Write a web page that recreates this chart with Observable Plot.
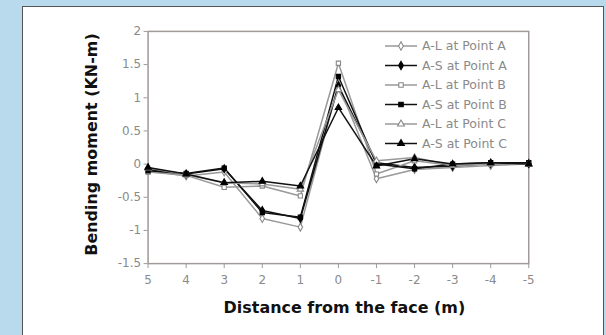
<!DOCTYPE html>
<html>
<head>
<meta charset="utf-8">
<script src="https://cdn.jsdelivr.net/npm/d3@7"></script>
<script src="https://cdn.jsdelivr.net/npm/@observablehq/plot@0.6"></script>
<style>
  html, body { margin: 0; padding: 0; }
  body { width: 606px; height: 335px; background: #b9d9ec; position: relative; overflow: hidden; font-family: "DejaVu Sans", sans-serif; }
  #box { position: absolute; left: 22px; top: 6px; width: 582px; height: 340px; background: #fff; border-left: 1px solid #555; border-top: 1px solid #555; border-right: 1px solid #555; box-sizing: border-box; }
  #chart { position: absolute; left: 1px; top: 0px; }
  #legend { position: absolute; left: 0; top: 0; }
</style>
</head>
<body>
<div id="box"><div id="chart"></div><svg id="legend" width="580" height="200"></svg></div>
<script>
// ---- data ----
const distances = [5, 4, 3, 2, 1, 0, -1, -2, -3, -4, -5];
const yTicks = [-1.5, -1, -0.5, 0, 0.5, 1, 1.5, 2];
const seriesNames = ["A-L at Point A", "A-S at Point A", "A-L at Point B", "A-S at Point B", "A-L at Point C", "A-S at Point C"];
const alPointA = [-0.10, -0.18, -0.12, -0.82, -0.95, 1.20, -0.22, -0.08, -0.05, -0.02, 0.00];
const asPointA = [-0.08, -0.15, -0.07, -0.70, -0.82, 1.18, 0.02, -0.05, -0.03, 0.01, 0.01];
const alPointB = [-0.12, -0.17, -0.35, -0.33, -0.48, 1.52, -0.15, 0.05, -0.02, 0.00, 0.00];
const asPointB = [-0.10, -0.14, -0.06, -0.73, -0.80, 1.32, 0.00, -0.07, 0.00, 0.02, 0.02];
const alPointC = [-0.06, -0.16, -0.28, -0.30, -0.38, 1.12, 0.05, 0.10, -0.02, 0.01, 0.00];
const asPointC = [-0.05, -0.15, -0.28, -0.26, -0.33, 0.85, -0.03, 0.08, 0.00, 0.02, 0.00];
const seriesValues = [alPointA, asPointA, alPointB, asPointB, alPointC, asPointC];
const seriesSymbols = ["diamond", "diamond", "square", "square", "triangle", "triangle"];
const seriesFilled = [false, true, false, true, false, true];

// ---- build ----
const series = seriesNames.map((name, i) => ({
  name,
  symbol: seriesSymbols[i],
  filled: seriesFilled[i],
  data: distances.map((d, j) => ({ d, v: seriesValues[i][j] }))
}));
const lineColor = s => s.filled ? "#111" : "#999";
const fmt = v => String(v);

const marks = [
  Plot.frame({ stroke: "#a09a98", strokeWidth: 1.5 }),
  Plot.axisX({ ticks: distances, tickFormat: fmt, tickSize: 5, tickPadding: 7, stroke: "#a09a98", color: "#8a8a8a", fontSize: 12, label: null }),
  Plot.axisY({ ticks: yTicks, tickFormat: fmt, tickSize: 4, tickPadding: 3, stroke: "#a09a98", color: "#8a8a8a", fontSize: 12, label: null })
];
for (const s of series) {
  marks.push(Plot.line(s.data, { x: "d", y: "v", stroke: lineColor(s), strokeWidth: 1.5 }));
}
for (const s of series) {
  marks.push(Plot.dot(s.data, {
    x: "d", y: "v", symbol: () => s.symbol, r: 2.4,
    fill: s.filled ? "#000" : "#fff", stroke: s.filled ? "#000" : "#888", strokeWidth: 1.1
  }));
}
marks.push(Plot.text(["Distance from the face (m)"], { frameAnchor: "bottom", dy: 50, dx: 6, fontSize: 16, fontWeight: "bold", fill: "#111" }));
marks.push(Plot.text(["Bending moment (KN-m)"], { frameAnchor: "left", textAnchor: "middle", rotate: -90, dx: -56, dy: -3, fontSize: 16, fontWeight: "bold", fill: "#111" }));

const chart = Plot.plot({
  width: 581, height: 329,
  marginLeft: 124, marginRight: 75, marginTop: 24, marginBottom: 72,
  style: { fontFamily: "DejaVu Sans, sans-serif", background: "transparent" },
  x: { type: "linear", domain: [5, -5] },
  y: { domain: [-1.5, 2] },
  symbol: { type: "identity" },
  marks
});
document.getElementById("chart").appendChild(chart);

// ---- legend (inside the plot area) ----
const leg = d3.select("#legend");
const symGen = d3.symbol();
const symMap = { diamond: d3.symbolDiamond, square: d3.symbolSquare, triangle: d3.symbolTriangle };
series.forEach((s, i) => {
  const g = leg.append("g").attr("transform", `translate(0, ${39 + i * 19.5})`);
  g.append("line").attr("x1", 362).attr("x2", 394).attr("y1", 0).attr("y2", 0)
    .attr("stroke", lineColor(s)).attr("stroke-width", 1.5);
  g.append("path").attr("d", symGen.type(symMap[s.symbol]).size(20)()).attr("transform", "translate(378,0)")
    .attr("fill", s.filled ? "#000" : "#fff").attr("stroke", s.filled ? "#000" : "#888").attr("stroke-width", 1.1);
  g.append("text").attr("x", 399).attr("y", 0).attr("dy", "0.35em").attr("font-size", 12.5)
    .attr("fill", "#8a8a8a").attr("font-family", "DejaVu Sans, sans-serif").text(s.name);
});
</script>
</body>
</html>
